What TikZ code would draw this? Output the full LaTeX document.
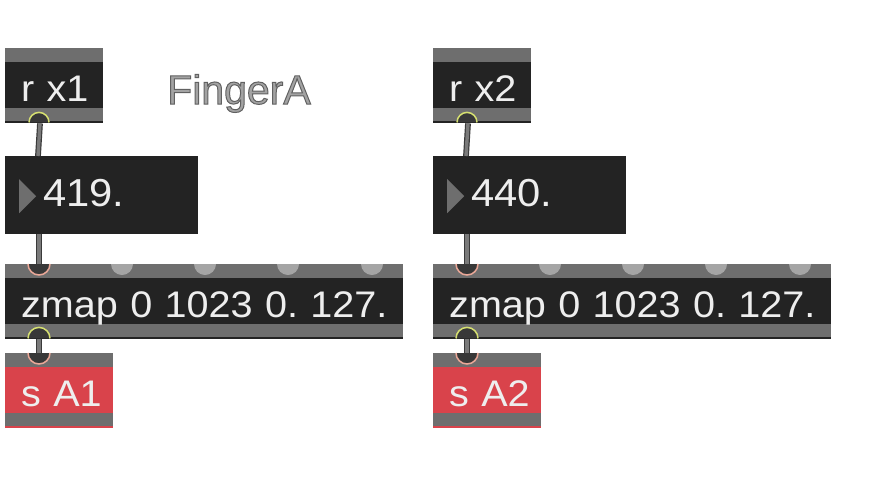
\documentclass[tikz,border=0pt]{standalone}
\usepackage{fontspec}
\setmainfont{Liberation Sans}
\newfontfamily\patchfont[FakeStretch=1.07]{Liberation Sans}
\usepackage{tikz}

\definecolor{boxdark}{HTML}{232323}
\definecolor{bargray}{HTML}{6E6E6E}
\definecolor{boxtext}{HTML}{EEEEEE}
\definecolor{sendred}{HTML}{D9434B}
\definecolor{inletgray}{HTML}{A5A5A5}
\definecolor{inletpink}{HTML}{EBA898}
\definecolor{outletyellow}{HTML}{D6E070}
\definecolor{holedark}{HTML}{383838}
\definecolor{cablegray}{HTML}{7A7A7A}
\definecolor{cableedge}{HTML}{3A3A3A}
\definecolor{titlefill}{HTML}{A3A3A3}

\tikzset{
  objbox/.style={rectangle, anchor=north west, fill=boxdark, text=boxtext,
    inner xsep=0pt, inner ysep=0pt, text height=53pt, text depth=22pt, align=left,
    font=\patchfont\fontsize{37}{40}\selectfont\frenchspacing, execute at begin node={\hspace*{16pt}},
    path picture={
      \fill[bargray] (path picture bounding box.north west) rectangle ([yshift=-14pt]path picture bounding box.north east);
      \fill[bargray] ([yshift=2pt]path picture bounding box.south west) rectangle ([yshift=15pt]path picture bounding box.south east);}},
  sendbox/.style={objbox, fill=sendred},
  numbox/.style={rectangle, anchor=north west, fill=boxdark, text=boxtext,
    inner xsep=0pt, inner ysep=0pt, text height=50pt, text depth=28pt, text width=193pt, align=left,
    font=\patchfont\fontsize{39}{42}\selectfont, execute at begin node={\hspace*{38pt}},
    path picture={
      \fill[bargray] ([xshift=14pt,yshift=-23pt]path picture bounding box.north west) -- ++(17pt,-17pt) -- ++(-17pt,-17pt) -- cycle;}},
  cable/.style={draw=cableedge, line width=1.2pt, double=cablegray, double distance=3.4pt},
  inlet/.style={fill=inletgray},
  inletcon/.style={fill=holedark, draw=inletpink, line width=1.5pt},
  outletcon/.style={fill=holedark, draw=outletyellow, line width=1.5pt},
}

\begin{document}
\begin{tikzpicture}[x=1pt,y=-1pt]
  \fill[white] (0,0) rectangle (885,477);
  \useasboundingbox (0,0) rectangle (885,477);

  % left patch
  \node[objbox, text width=98pt] (rx1) at (5,48) {r x1};
  \node[numbox] (num1) at (5,156) {419.};
  \node[objbox, text width=398pt] (zmap1) at (5,264) {zmap 0 1023 0. 127.};
  \node[sendbox, text width=108pt] (sA1) at (5,353) {s A1};
  \node[font=\fontsize{41}{45}\selectfont, text=titlefill, anchor=base west, inner sep=0pt] (title) at (167,104)
    {\special{pdf:literal direct 2 Tr 1 w 0.38 0.38 0.38 RG}FingerA\special{pdf:literal direct 0 Tr}};

  % right patch
  \node[objbox, text width=98pt] (rx2) at (433,48) {r x2};
  \node[numbox] (num2) at (433,156) {440.};
  \node[objbox, text width=398pt] (zmap2) at (433,264) {zmap 0 1023 0. 127.};
  \node[sendbox, text width=108pt] (sA2) at (433,353) {s A2};

  \foreach \c in {1,2}{
    \draw[cable] ([xshift=35pt]rx\c.south west) -- ([xshift=33pt]num\c.north west);
    \draw[cable] ([xshift=34pt]num\c.south west) -- ([xshift=34pt]zmap\c.north west);
    \draw[cable] ([xshift=34pt]zmap\c.south west) -- ([xshift=34pt]sA\c.north west);
    \foreach \dx in {106,189,272,356}
      \fill[inlet] ([xshift=\dx pt]zmap\c.north west) arc[start angle=180, end angle=360, radius=11pt];
    \filldraw[inletcon] ([xshift=23pt]zmap\c.north west) arc[start angle=180, end angle=360, radius=11pt];
    \filldraw[inletcon] ([xshift=23pt]sA\c.north west) arc[start angle=180, end angle=360, radius=11pt];
    \filldraw[outletcon] ([xshift=24pt,yshift=1pt]rx\c.south west) arc[start angle=180, end angle=0, radius=10pt];
    \filldraw[outletcon] ([xshift=23pt,yshift=1pt]zmap\c.south west) arc[start angle=180, end angle=0, radius=11pt];
  }
\end{tikzpicture}
\end{document}
